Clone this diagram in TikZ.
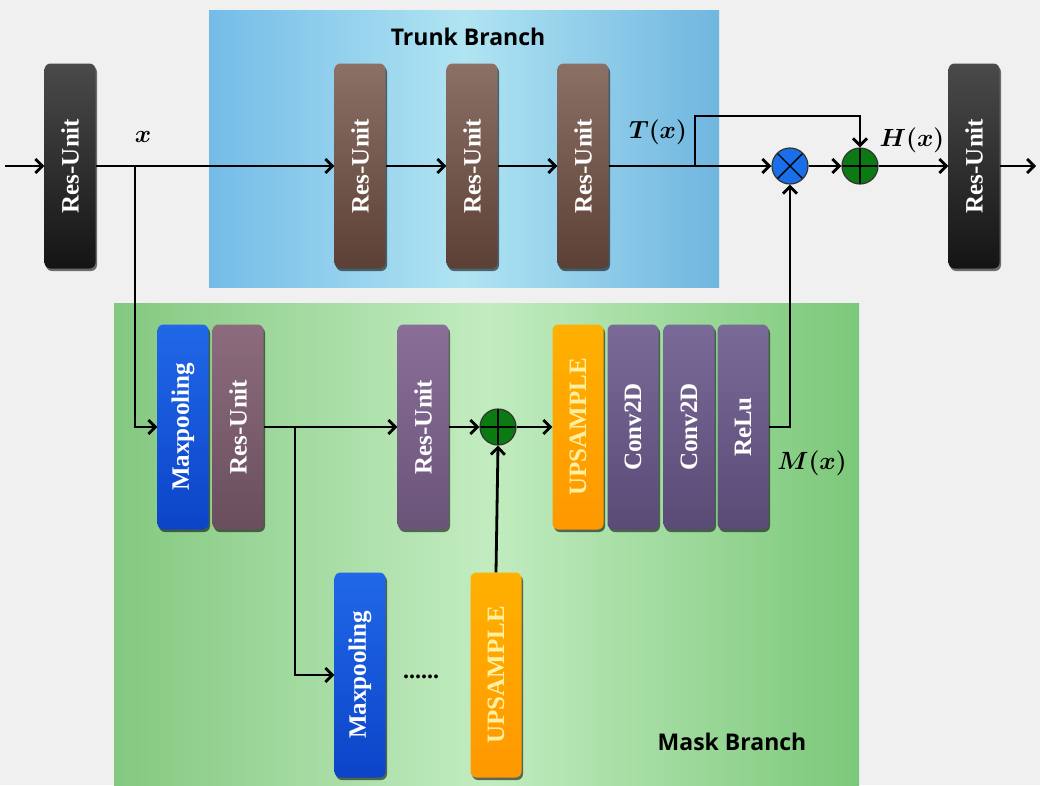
\documentclass[tikz,border=0pt]{standalone}
\usepackage{fontspec}
\setmainfont{Liberation Serif}
\newfontfamily\labfont{Open Sans}
\usetikzlibrary{arrows.meta,shadows,calc}
\definecolor{bgc}{HTML}{F0F0F0}
\definecolor{darkT}{HTML}{4A4A4A}\definecolor{darkB}{HTML}{141414}
\definecolor{brT}{HTML}{8A7065}\definecolor{brB}{HTML}{5C4036}
\definecolor{mvT}{HTML}{8C6C7C}\definecolor{mvB}{HTML}{6A4E5E}
\definecolor{puT}{HTML}{8A6E98}\definecolor{puB}{HTML}{6A5478}
\definecolor{cvT}{HTML}{7A6A98}\definecolor{cvB}{HTML}{5A4A76}
\definecolor{blT}{HTML}{2068E8}\definecolor{blB}{HTML}{0C44C8}
\definecolor{orT}{HTML}{FFB000}\definecolor{orB}{HTML}{FF9800}
\definecolor{upTxt}{HTML}{FFF0A0}
\definecolor{trL}{HTML}{74BCE8}\definecolor{trM}{HTML}{B0E4F2}\definecolor{trR}{HTML}{70B6E0}
\definecolor{gnL}{HTML}{84C880}\definecolor{gnM}{HTML}{C2ECC0}\definecolor{gnR}{HTML}{7CC87A}
\definecolor{mulc}{HTML}{1A6EE8}\definecolor{addc}{HTML}{0B7A12}
\tikzset{
  blk/.style={rounded corners=6pt, minimum width=51pt, minimum height=205pt, inner sep=0pt,
    text=white, font=\fontsize{25}{30}\selectfont\bfseries,
    drop shadow={shadow xshift=1.5pt,shadow yshift=-2.5pt,opacity=0.55,fill=black}},
  darkbox/.style={blk, top color=darkT, bottom color=darkB},
  trbox/.style={blk, top color=brT, bottom color=brB},
  mvbox/.style={blk, top color=mvT, bottom color=mvB},
  pubox/.style={blk, top color=puT, bottom color=puB},
  cvbox/.style={blk, top color=cvT, bottom color=cvB},
  mpbox/.style={blk, top color=blT, bottom color=blB},
  upbox/.style={blk, top color=orT, bottom color=orB, text=upTxt},
  arr/.style={-{Straight Barb[length=7pt,width=14pt]}, line width=2.8pt},
  opc/.style={circle, minimum size=36pt, inner sep=0pt, draw=black!80, line width=1.2pt},
  mathlab/.style={font=\fontsize{27}{30}\selectfont\boldmath, inner sep=0pt},
  brlab/.style={font=\labfont\fontsize{23}{28}\selectfont\bfseries, inner sep=0pt}
}
\begin{document}
\begin{tikzpicture}[x=1pt,y=-1pt]
\fill[bgc] (0,0) rectangle (1040,785);
\useasboundingbox (0,0) rectangle (1040,785);
% branch backgrounds
\shade[left color=trL, right color=trR, middle color=trM] (209,10) rectangle (719,287);
\shade[left color=gnL, right color=gnR, middle color=gnM] (114,303) rectangle (859,785);
\node[brlab] (trlab) at (468,37) {Trunk Branch};
\node[brlab] (mslab) at (732,742) {Mask Branch};
% top row
\node[darkbox] (r0) at (70,166) {\rotatebox{90}{Res-Unit}};
\node[trbox] (t1) at (360,166) {\rotatebox{90}{Res-Unit}};
\node[trbox] (t2) at (472,166) {\rotatebox{90}{Res-Unit}};
\node[trbox] (t3) at (583,166) {\rotatebox{90}{Res-Unit}};
\node[darkbox] (r4) at (974,166) {\rotatebox{90}{Res-Unit}};
\node[opc, fill=mulc, path picture={
  \draw[line width=1.4pt,black] (path picture bounding box.south west) -- (path picture bounding box.north east)
       (path picture bounding box.north west) -- (path picture bounding box.south east);}] (mul) at (790,166) {};
\node[opc, fill=addc, path picture={
  \draw[line width=1.4pt,black] (path picture bounding box.north) -- (path picture bounding box.south)
       (path picture bounding box.west) -- (path picture bounding box.east);}] (add) at (860,166) {};
% mask row
\node[mpbox] (mp1) at (183,427) {\rotatebox{90}{Maxpooling}};
\node[mvbox] (m1) at (238,427) {\rotatebox{90}{Res-Unit}};
\node[pubox] (m2) at (423,427) {\rotatebox{90}{Res-Unit}};
\node[opc, fill=addc, path picture={
  \draw[line width=1.4pt,black] (path picture bounding box.north) -- (path picture bounding box.south)
       (path picture bounding box.west) -- (path picture bounding box.east);}] (madd) at (498,427) {};
\node[upbox] (up1) at (578,427) {\rotatebox{90}{UPSAMPLE}};
\node[cvbox] (c1) at (633,427) {\rotatebox{90}{Conv2D}};
\node[cvbox] (c2) at (689,427) {\rotatebox{90}{Conv2D}};
\node[cvbox] (relu) at (743,427) {\rotatebox{90}{ReLu}};
\node[mpbox] (mp2) at (360,675) {\rotatebox{90}{Maxpooling}};
\node[upbox] (up2) at (496,675) {\rotatebox{90}{UPSAMPLE}};
\node[anchor=base, inner sep=0pt, font=\fontsize{24}{26}\selectfont\bfseries] (dots) at (421,678) {......};
% labels
\node[mathlab] (xl) at (143,137) {$x$};
\node[mathlab] (tl) at (658,132) {$T(x)$};
\node[mathlab] (hl) at (912,140) {$H(x)$};
\node[mathlab] (ml) at (812,463) {$M(x)$};
% coordinates
\coordinate (in) at (5,166);
\coordinate (out) at (1036,166);
\coordinate (bx) at (135,166);
\coordinate (sk) at (695,166);
\coordinate (sk2) at (695,116);
\coordinate (bm) at (295,427);
% connectors
\draw[arr] (in) -- (r0.west);
\draw[arr] (r0.east) -- (t1.west);
\draw[arr] (bx) |- (mp1.west);
\draw[arr] (t1.east) -- (t2.west);
\draw[arr] (t2.east) -- (t3.west);
\draw[arr] (t3.east) -- (mul.west);
\draw[arr] (sk) -- (sk2) -| (add.north);
\draw[arr] (mul.east) -- (add.west);
\draw[arr] (add.east) -- (r4.west);
\draw[arr] (r4.east) -- (out);
\draw[arr] (m1.east) -- (m2.west);
\draw[arr] (bm) |- (mp2.west);
\draw[arr] (m2.east) -- (madd.west);
\draw[arr] (up2.north) -- (madd.south);
\draw[arr] (madd.east) -- (up1.west);
\draw[arr] (relu.east) -| (mul.south);
\end{tikzpicture}
\end{document}
